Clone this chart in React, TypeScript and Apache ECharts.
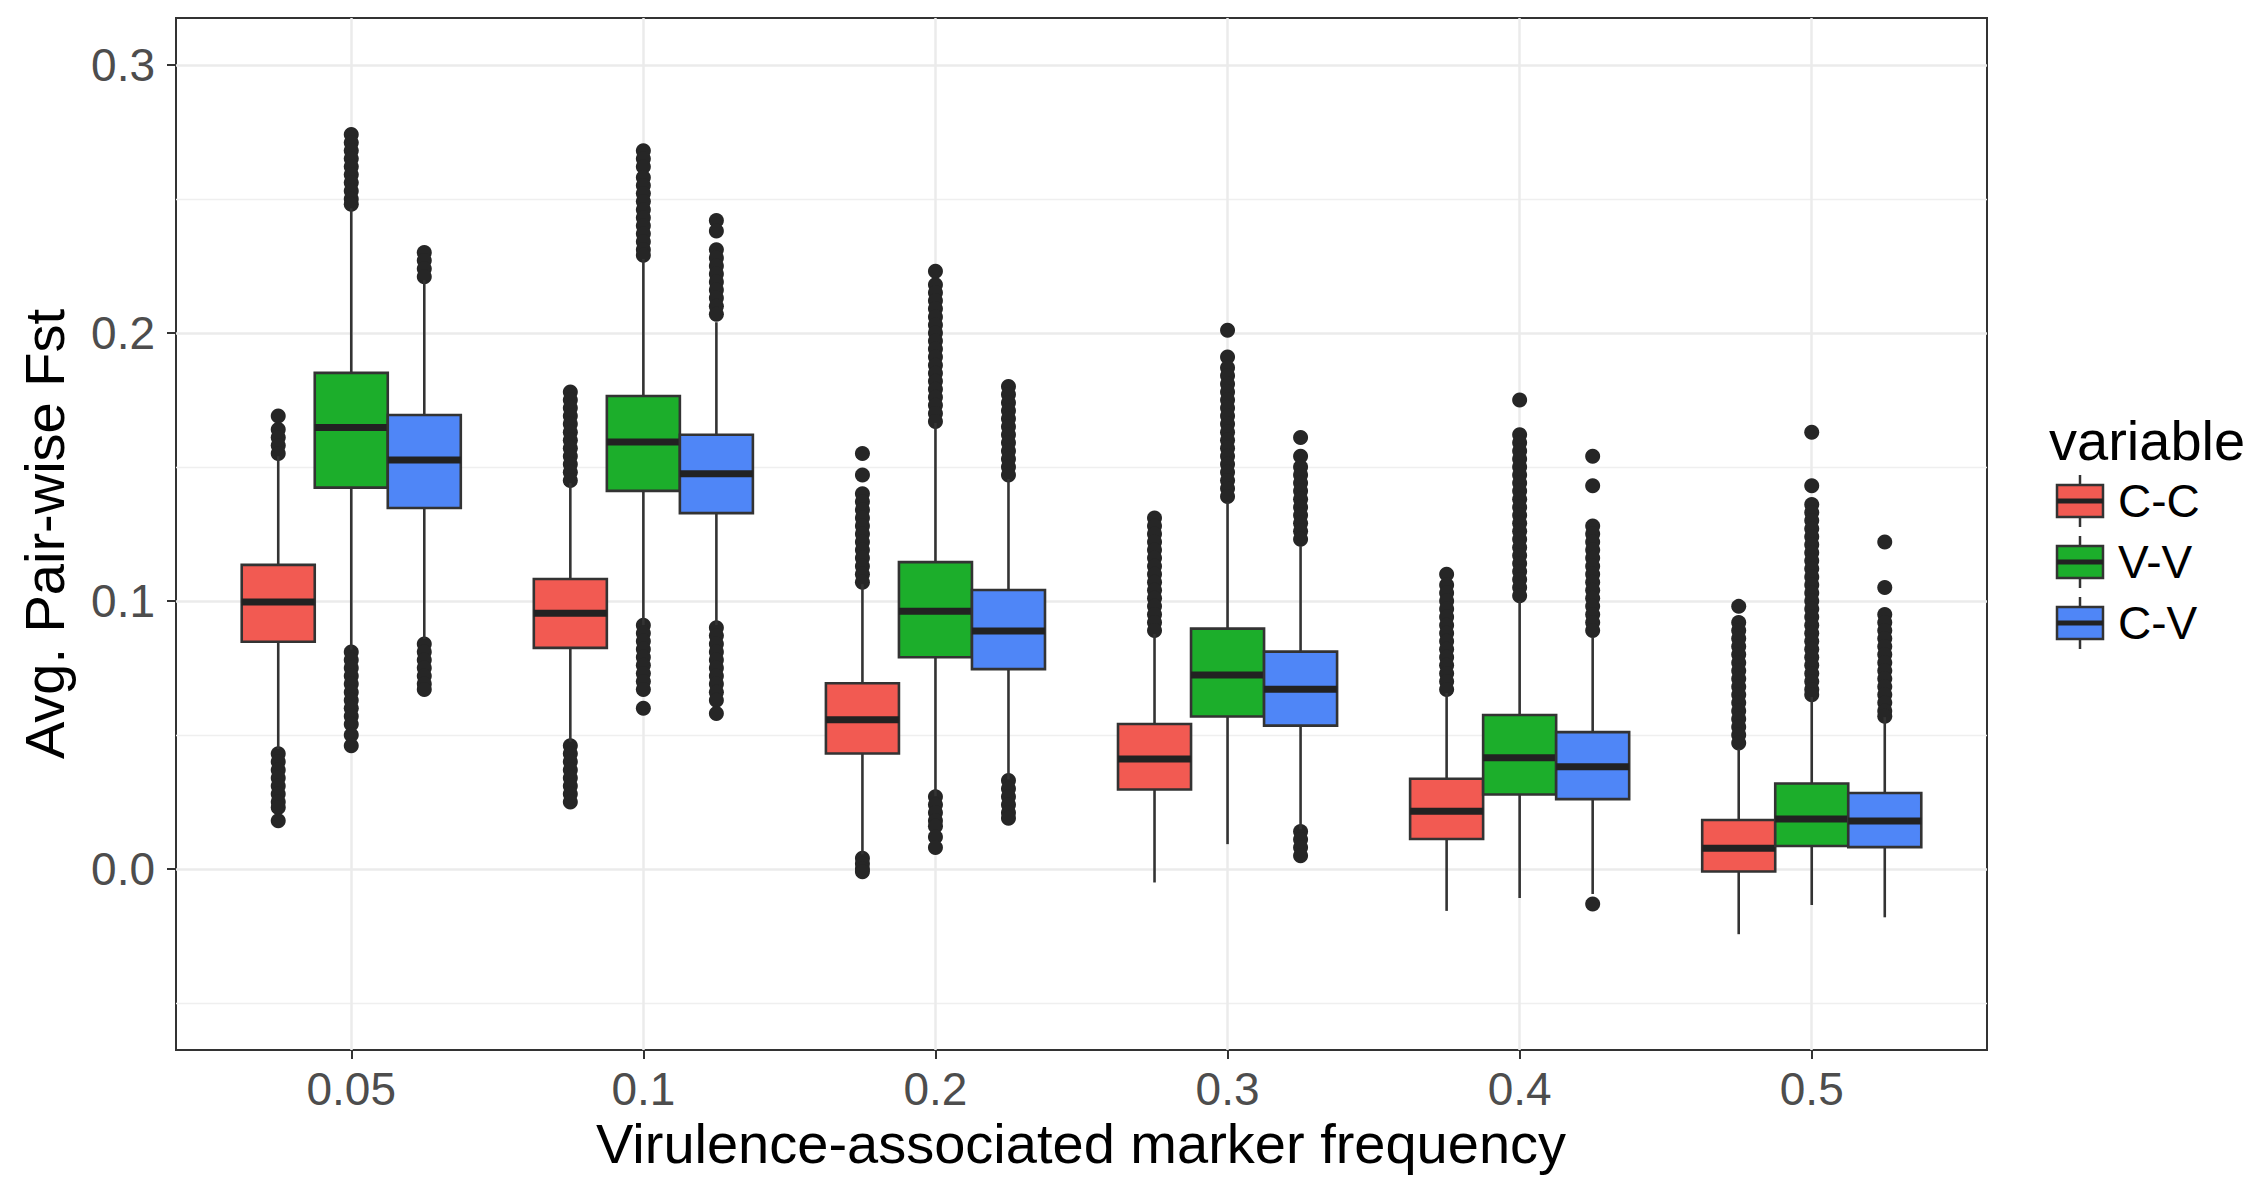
import React, { useEffect, useRef } from "react";
import * as echarts from "echarts";

const categories = ["0.05", "0.1", "0.2", "0.3", "0.4", "0.5"];
const variables = ["C-C", "V-V", "C-V"];
const variableColors = ["#F25A52", "#1CAE2B", "#4F86F7"];
const yMajorTicks = [0, 0.1, 0.2, 0.3];
const yMinorTicks = [-0.05, 0.05, 0.15, 0.25];
const xTicks = [1, 2, 3, 4, 5, 6];

// [lower whisker, Q1, median, Q3, upper whisker] per frequency
const ccBoxes = [
  [0.0448, 0.0848, 0.0996, 0.1135, 0.154],
  [0.0475, 0.0825, 0.0954, 0.1082, 0.144],
  [0.0055, 0.0431, 0.0557, 0.0693, 0.1063],
  [-0.005, 0.0297, 0.0411, 0.0541, 0.0877],
  [-0.0156, 0.0112, 0.0216, 0.0337, 0.0657],
  [-0.0243, -0.0009, 0.0078, 0.0183, 0.0449],
];
const vvBoxes = [
  [0.0818, 0.1423, 0.1647, 0.1851, 0.2465],
  [0.091, 0.1411, 0.1593, 0.1765, 0.2276],
  [0.0272, 0.079, 0.0962, 0.1145, 0.1664],
  [0.0093, 0.0569, 0.0724, 0.0897, 0.137],
  [-0.0108, 0.0278, 0.0415, 0.0575, 0.1],
  [-0.0134, 0.0086, 0.0187, 0.0319, 0.0642],
];
const cvBoxes = [
  [0.0858, 0.1347, 0.1526, 0.1694, 0.2197],
  [0.091, 0.1328, 0.1475, 0.162, 0.204],
  [0.0334, 0.0746, 0.0888, 0.1041, 0.1455],
  [0.0148, 0.0535, 0.0671, 0.0811, 0.1205],
  [-0.0093, 0.0261, 0.0382, 0.0511, 0.0866],
  [-0.018, 0.0082, 0.0179, 0.0284, 0.0567],
];

// outliers per frequency
const ccOutliers = [
  [0.169, 0.164, 0.161, 0.158, 0.155, 0.043, 0.04, 0.037, 0.034, 0.031, 0.028, 0.025, 0.023, 0.018],
  [0.178, 0.175, 0.172, 0.169, 0.166, 0.163, 0.16, 0.157, 0.154, 0.151, 0.148, 0.145, 0.046, 0.043, 0.04, 0.037, 0.034, 0.031, 0.028, 0.025],
  [0.155, 0.147, 0.14, 0.137, 0.134, 0.131, 0.128, 0.125, 0.122, 0.119, 0.116, 0.113, 0.11, 0.107, 0.004, 0.002, 0.0, -0.001],
  [0.131, 0.128, 0.125, 0.122, 0.119, 0.116, 0.113, 0.11, 0.107, 0.104, 0.101, 0.098, 0.095, 0.092, 0.089],
  [0.11, 0.106, 0.103, 0.1, 0.097, 0.094, 0.091, 0.088, 0.085, 0.082, 0.079, 0.076, 0.073, 0.07, 0.067],
  [0.098, 0.092, 0.089, 0.086, 0.083, 0.08, 0.077, 0.074, 0.071, 0.068, 0.065, 0.062, 0.059, 0.056, 0.053, 0.05, 0.047],
];
const vvOutliers = [
  [0.274, 0.271, 0.268, 0.265, 0.262, 0.259, 0.256, 0.253, 0.25, 0.248, 0.081, 0.078, 0.075, 0.072, 0.069, 0.066, 0.063, 0.06, 0.057, 0.054, 0.05, 0.046],
  [0.268, 0.265, 0.262, 0.258, 0.255, 0.252, 0.249, 0.246, 0.243, 0.24, 0.237, 0.234, 0.231, 0.229, 0.091, 0.088, 0.085, 0.082, 0.079, 0.076, 0.073, 0.07, 0.067, 0.06],
  [0.223, 0.218, 0.215, 0.212, 0.209, 0.206, 0.203, 0.2, 0.197, 0.194, 0.191, 0.188, 0.185, 0.182, 0.179, 0.176, 0.173, 0.17, 0.167, 0.027, 0.024, 0.021, 0.018, 0.016, 0.012, 0.008],
  [0.201, 0.191, 0.187, 0.184, 0.181, 0.178, 0.175, 0.172, 0.169, 0.166, 0.163, 0.16, 0.157, 0.154, 0.151, 0.148, 0.145, 0.142, 0.139],
  [0.175, 0.162, 0.159, 0.156, 0.153, 0.15, 0.147, 0.144, 0.141, 0.138, 0.135, 0.132, 0.129, 0.126, 0.123, 0.12, 0.117, 0.114, 0.111, 0.108, 0.105, 0.102],
  [0.163, 0.143, 0.136, 0.133, 0.13, 0.127, 0.124, 0.121, 0.118, 0.115, 0.112, 0.109, 0.106, 0.103, 0.1, 0.097, 0.094, 0.091, 0.088, 0.085, 0.082, 0.079, 0.076, 0.073, 0.07, 0.067, 0.065],
];
const cvOutliers = [
  [0.23, 0.227, 0.224, 0.221, 0.084, 0.081, 0.078, 0.075, 0.072, 0.069, 0.067],
  [0.242, 0.238, 0.231, 0.228, 0.225, 0.222, 0.219, 0.216, 0.213, 0.21, 0.207, 0.09, 0.087, 0.084, 0.081, 0.078, 0.075, 0.072, 0.069, 0.066, 0.063, 0.058],
  [0.18, 0.177, 0.174, 0.171, 0.168, 0.165, 0.162, 0.159, 0.156, 0.153, 0.15, 0.147, 0.033, 0.03, 0.027, 0.024, 0.021, 0.019],
  [0.161, 0.154, 0.15, 0.147, 0.144, 0.141, 0.138, 0.135, 0.132, 0.129, 0.126, 0.123, 0.014, 0.011, 0.008, 0.005],
  [0.154, 0.143, 0.128, 0.125, 0.122, 0.119, 0.116, 0.113, 0.11, 0.107, 0.104, 0.101, 0.098, 0.095, 0.092, 0.089, -0.013],
  [0.122, 0.105, 0.095, 0.092, 0.089, 0.086, 0.083, 0.08, 0.077, 0.074, 0.071, 0.068, 0.065, 0.062, 0.059, 0.057],
];

const allBoxes = [ccBoxes, vvBoxes, cvBoxes];
const allOutliers = [ccOutliers, vvOutliers, cvOutliers];

const FONT = "'Liberation Sans', Arial, Helvetica, sans-serif";
const OUTLINE = "#333333";
const DODGE = [-0.25, 0, 0.25];
const BOX_W = 0.25;

function boxRenderer(dodge: number, color: string) {
  return (params: any, api: any) => {
    const x = api.value(0);
    const unit = api.size([1, 0])[0];
    const half = (unit * BOX_W) / 2;
    const cx = api.coord([x, 0])[0] + dodge * unit;
    const yLo = api.coord([x, api.value(1)])[1];
    const yQ1 = api.coord([x, api.value(2)])[1];
    const yMed = api.coord([x, api.value(3)])[1];
    const yQ3 = api.coord([x, api.value(4)])[1];
    const yHi = api.coord([x, api.value(5)])[1];
    const ls = { stroke: OUTLINE, lineWidth: 2.6 };
    return {
      type: "group",
      children: [
        { type: "line", shape: { x1: cx, y1: yHi, x2: cx, y2: yQ3 }, style: ls },
        { type: "line", shape: { x1: cx, y1: yQ1, x2: cx, y2: yLo }, style: ls },
        {
          type: "rect",
          shape: { x: cx - half, y: yQ3, width: half * 2, height: yQ1 - yQ3 },
          style: { fill: color, stroke: OUTLINE, lineWidth: 2.6 },
        },
        {
          type: "line",
          shape: { x1: cx - half, y1: yMed, x2: cx + half, y2: yMed },
          style: { stroke: "#222222", lineWidth: 7 },
        },
      ],
    };
  };
}

function outlierRenderer(dodge: number) {
  return (params: any, api: any) => {
    const x = api.value(0);
    const unit = api.size([1, 0])[0];
    const p = api.coord([x, api.value(1)]);
    return {
      type: "circle",
      shape: { cx: p[0] + dodge * unit, cy: p[1], r: 7.5 },
      style: { fill: "#262626" },
    };
  };
}

export default function App() {
  const ref = useRef<HTMLDivElement>(null);

  useEffect(() => {
    document.body.style.margin = "0";
    document.body.style.overflow = "hidden";
    if (!ref.current) return;
    const chart = echarts.init(ref.current, undefined, { renderer: "svg" });

    const series: any[] = [];
    variables.forEach((name, vi) => {
      const outData: number[][] = [];
      allOutliers[vi].forEach((vals, ci) => vals.forEach((v) => outData.push([ci + 1, v])));
      series.push({
        type: "custom",
        name: name + " outliers",
        renderItem: outlierRenderer(DODGE[vi]),
        data: outData,
        encode: { x: 0, y: 1 },
        silent: true,
        z: 3,
      });
      series.push({
        type: "custom",
        name,
        renderItem: boxRenderer(DODGE[vi], variableColors[vi]),
        data: allBoxes[vi].map((b, ci) => [ci + 1, ...b]),
        encode: { x: 0, y: [1, 2, 3, 4, 5] },
        silent: true,
        z: 4,
      });
    });

    const graphics: any[] = [
      {
        type: "text",
        x: 44,
        y: 534,
        rotation: Math.PI / 2,
        style: {
          text: "Avg. Pair-wise Fst",
          font: `56px ${FONT}`,
          fill: "#000000",
          textAlign: "center",
          textVerticalAlign: "middle",
        },
      },
      {
        type: "text",
        x: 1081,
        y: 1143,
        style: {
          text: "Virulence-associated marker frequency",
          font: `56px ${FONT}`,
          fill: "#000000",
          textAlign: "center",
          textVerticalAlign: "middle",
        },
      },
      {
        type: "text",
        x: 2049,
        y: 440,
        style: {
          text: "variable",
          font: `56px ${FONT}`,
          fill: "#000000",
          textAlign: "left",
          textVerticalAlign: "middle",
        },
      },
    ];
    variables.forEach((name, i) => {
      const cy = 501 + i * 61;
      const cx = 2080;
      graphics.push({
        type: "line",
        shape: { x1: cx, y1: cy - 26, x2: cx, y2: cy + 26 },
        style: { stroke: OUTLINE, lineWidth: 2.5 },
      });
      graphics.push({
        type: "rect",
        shape: { x: cx - 23, y: cy - 16, width: 46, height: 32 },
        style: { fill: variableColors[i], stroke: OUTLINE, lineWidth: 2.5 },
      });
      graphics.push({
        type: "line",
        shape: { x1: cx - 23, y1: cy, x2: cx + 23, y2: cy },
        style: { stroke: "#222222", lineWidth: 5 },
      });
      graphics.push({
        type: "text",
        x: 2118,
        y: cy,
        style: {
          text: name,
          font: `46px ${FONT}`,
          fill: "#000000",
          textAlign: "left",
          textVerticalAlign: "middle",
        },
      });
    });

    chart.setOption({
      animation: false,
      backgroundColor: "#ffffff",
      textStyle: { fontFamily: FONT },
      grid: {
        left: 176,
        right: 2256 - 1987,
        top: 18,
        bottom: 1178 - 1050,
        show: true,
        borderColor: OUTLINE,
        borderWidth: 2,
        backgroundColor: "transparent",
        containLabel: false,
        outerBoundsMode: "none",
      },
      xAxis: {
        type: "value",
        min: 0.4,
        max: 6.6,
        position: "bottom",
        axisLine: { show: false, onZero: false },
        axisTick: {
          show: true,
          customValues: xTicks,
          length: 9,
          lineStyle: { color: OUTLINE, width: 2 },
        },
        axisLabel: {
          customValues: xTicks,
          formatter: (v: number) => categories[Math.round(v) - 1] ?? "",
          fontSize: 46,
          color: "#4D4D4D",
          fontFamily: FONT,
          margin: 16,
        },
        splitLine: { show: true, lineStyle: { color: "#EBEBEB", width: 2.5 } },
      },
      yAxis: [
        {
          type: "value",
          min: -0.0675,
          max: 0.3175,
          position: "left",
          axisLine: { show: false, onZero: false },
          axisTick: {
            show: true,
            customValues: yMajorTicks,
            length: 9,
            lineStyle: { color: OUTLINE, width: 2 },
          },
          axisLabel: {
            customValues: yMajorTicks,
            formatter: (v: number) => v.toFixed(1),
            fontSize: 46,
            color: "#4D4D4D",
            fontFamily: FONT,
            margin: 21,
          },
          splitLine: { show: true, lineStyle: { color: "#EBEBEB", width: 2.5 } },
        },
        {
          type: "value",
          min: -0.0675,
          max: 0.3175,
          position: "left",
          axisLine: { show: false, onZero: false },
          axisTick: { show: false, customValues: yMinorTicks },
          axisLabel: { show: false, customValues: yMinorTicks },
          splitLine: { show: true, lineStyle: { color: "#EFEFEF", width: 1.4 } },
        },
      ],
      series,
      graphic: graphics,
    });

    return () => chart.dispose();
  }, []);

  return (
    <div
      ref={ref}
      style={{ position: "absolute", left: 0, top: 0, width: 2256, height: 1178 }}
    />
  );
}
